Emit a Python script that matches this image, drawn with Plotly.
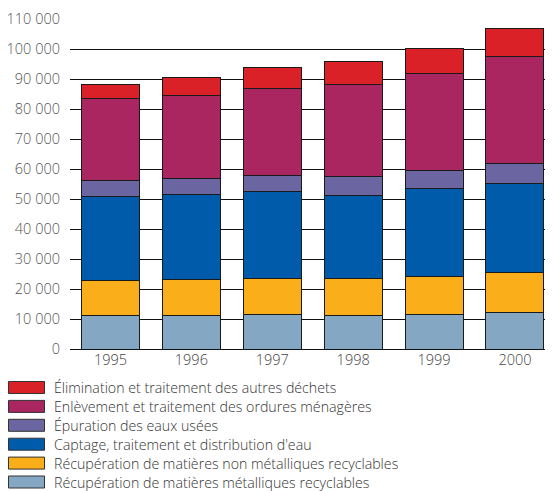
import plotly.graph_objects as go

years = ["1995", "1996", "1997", "1998", "1999", "2000"]

series_names = [
    "Récupération de matières métalliques recyclables",
    "Récupération de matières non métalliques recyclables",
    "Captage, traitement et distribution d'eau",
    "Épuration des eaux usées",
    "Enlèvement et traitement des ordures ménagères",
    "Élimination et traitement des autres déchets",
]
metalliques = [11200, 11300, 11550, 11300, 11450, 12300]
non_metalliques = [11700, 11900, 12000, 12350, 12650, 13350]
eau = [28100, 28200, 28800, 27650, 29350, 29550]
epuration = [5300, 5450, 5650, 6200, 6100, 6800]
ordures = [27100, 27800, 28900, 30700, 32450, 35450]
autres = [4900, 5800, 6800, 7800, 8200, 9550]
series_values = [metalliques, non_metalliques, eau, epuration, ordures, autres]
colors = ["#84A7C3", "#F9AE1A", "#005BAA", "#6B66A1", "#AA2660", "#DA2128"]

ytick_vals = list(range(0, 110001, 10000))
ytick_text = ["0"] + [f"{v // 1000} 000" for v in ytick_vals[1:]]

# page body has an 8px margin, so the figure is drawn from (8, 8)
OFF = 8
W, H = 553 - OFF, 491 - OFF
ML, MR, MT, MB = 70 - OFF, 0, 19 - OFF, 142
PW, PH = W - ML - MR, H - MT - MB

fig = go.Figure()
for name, vals, col in zip(series_names, series_values, colors):
    fig.add_trace(go.Bar(
        x=years, y=vals, name=name,
        marker=dict(color=col, line=dict(color="#1a1a1a", width=1)),
        showlegend=False,
    ))

def px_x(p):
    return (p - OFF - ML) / PW

def px_y(p):
    return (H - MB - (p - OFF)) / PH

shapes = []
annotations = []
row0 = 387.5
step = 18.9
legend_order = list(range(len(series_names) - 1, -1, -1))
for i, k in enumerate(legend_order):
    cy = row0 + i * step
    shapes.append(dict(
        type="rect", xref="paper", yref="paper",
        x0=px_x(8.5), x1=px_x(44.5), y0=px_y(cy + 6), y1=px_y(cy - 6),
        fillcolor=colors[k], line=dict(color="#333333", width=1),
    ))
    annotations.append(dict(
        xref="paper", yref="paper", x=px_x(52), y=px_y(cy),
        xanchor="left", yanchor="middle", showarrow=False,
        text=series_names[k],
        font=dict(family="Open Sans", size=14.2, color="#333333", weight=300),
    ))

fig.update_layout(
    width=W, height=H,
    margin=dict(l=ML, r=MR, t=MT, b=MB, pad=0),
    barmode="stack", bargap=0.283,
    plot_bgcolor="white", paper_bgcolor="white",
    xaxis=dict(
        type="category", range=[-0.5, 5.47],
        showgrid=False, showline=False, ticks="",
        tickfont=dict(family="Open Sans", size=14.5, color="#444444", weight=300),
    ),
    yaxis=dict(
        range=[0, 110000], tickvals=ytick_vals, ticktext=ytick_text,
        showgrid=True, gridcolor="#111111", gridwidth=1,
        zeroline=True, zerolinecolor="#111111", zerolinewidth=1,
        ticks="", ticklabelstandoff=9,
        tickfont=dict(family="Open Sans", size=14.5, color="#555555", weight=300),
    ),
    shapes=shapes, annotations=annotations,
)

fig.write_html("out.html")
